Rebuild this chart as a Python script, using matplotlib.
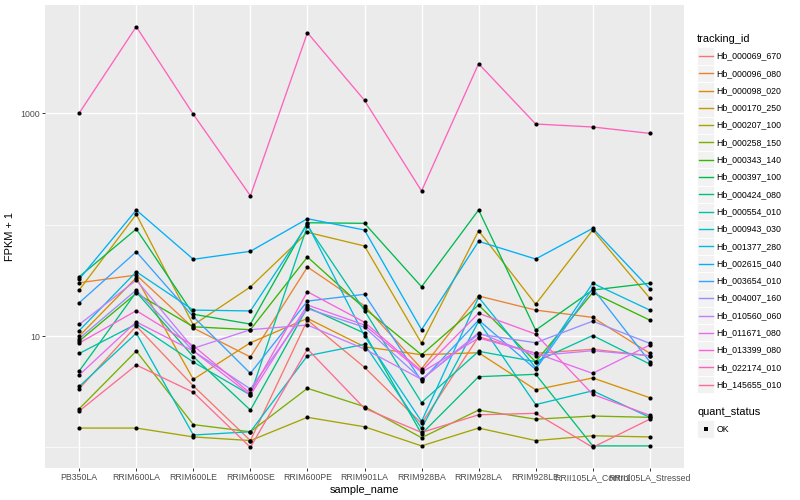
import numpy as np
import matplotlib
matplotlib.use("Agg")
import matplotlib.pyplot as plt
from matplotlib.ticker import FixedLocator, NullFormatter
from matplotlib.patches import Rectangle

# sample order on the x axis
samples = ["PB350LA", "RRIM600LA", "RRIM600LE", "RRIM600SE", "RRIM600PE",
           "RRIM901LA", "RRIM928BA", "RRIM928LA", "RRIM928LE",
           "RRII105LA_Control", "RRII105LA_Stressed"]

tracking_ids = ["Hb_000069_670", "Hb_000096_080", "Hb_000098_020", "Hb_000170_250",
                "Hb_000207_100", "Hb_000258_150", "Hb_000343_140", "Hb_000397_100",
                "Hb_000424_080", "Hb_000554_010", "Hb_000943_030", "Hb_001377_280",
                "Hb_002615_040", "Hb_003654_010", "Hb_004007_160", "Hb_010560_060",
                "Hb_011671_080", "Hb_013399_080", "Hb_022174_010", "Hb_145655_010"]

# ggplot default hue palette for 20 levels
colors = ["#F8766D", "#EA8331", "#D89000", "#C09B00", "#A3A500", "#7CAE00",
          "#39B600", "#00BB4E", "#00BF7D", "#00C1A3", "#00BFC4", "#00BAE0",
          "#00B0F6", "#35A2FF", "#9590FF", "#C77CFF", "#E76BF3", "#FA62DB",
          "#FF62BC", "#FF6C91"]

# FPKM + 1, one list per gene, in sample order
hb_000069_670 = [3.36, 12.3, 3.56, 1.15, 13.9, 5.23, 1.64, 9.86, 7.0, 7.6, 6.65]
hb_000096_080 = [30.1, 35.3, 11.8, 6.48, 41.7, 18.7, 5.08, 22.9, 17.1, 14.7, 7.0]
hb_000098_020 = [10.0, 33.4, 4.08, 8.7, 14.4, 8.0, 6.79, 7.08, 3.29, 4.2, 2.79]
hb_000170_250 = [25.9, 124, 12.56, 27.6, 85.5, 64.4, 8.6, 88.3, 19.3, 89.6, 21.9]
hb_000207_100 = [1.49, 1.49, 1.24, 1.15, 1.86, 1.53, 1.03, 1.49, 1.15, 1.27, 1.24]
hb_000258_150 = [2.22, 7.33, 1.60, 1.38, 3.39, 2.32, 1.22, 2.16, 1.79, 1.91, 1.86]
hb_000343_140 = [9.02, 24.2, 12.1, 11.4, 51.3, 17.7, 6.79, 19.0, 5.88, 24.5, 13.9]
hb_000397_100 = [34.1, 91.5, 15.7, 12.8, 104.2, 102.9, 27.7, 135.6, 11.3, 25.9, 29.8]
hb_000424_080 = [4.85, 24.8, 6.52, 2.16, 18.1, 10.6, 1.32, 4.31, 4.53, 1.03, 1.03]
hb_000554_010 = [6.97, 12.8, 5.84, 2.95, 98.0, 16.9, 2.52, 7.29, 5.88, 10.1, 5.6]
hb_000943_030 = [3.52, 10.6, 1.29, 1.38, 6.65, 8.42, 1.48, 13.55, 2.42, 3.22, 1.86]
hb_001377_280 = [11.2, 37.8, 17.1, 16.8, 100.8, 10.0, 1.71, 22.3, 5.19, 29.8, 17.1]
hb_002615_040 = [32.5, 135.6, 48.9, 57.7, 113.2, 89.6, 11.4, 70.9, 49.2, 92.8, 26.6]
hb_003654_010 = [19.9, 57.2, 14.9, 4.62, 20.6, 23.7, 3.94, 13.9, 5.02, 26.8, 5.88]
hb_004007_160 = [9.5, 25.9, 7.33, 3.34, 17.6, 12.0, 4.08, 10.4, 8.7, 13.6, 8.6]
hb_010560_060 = [12.7, 31.8, 7.75, 11.4, 12.56, 7.64, 4.08, 10.7, 6.65, 7.38, 6.65]
hb_011671_080 = [4.47, 13.4, 7.33, 2.95, 19.0, 12.56, 4.72, 9.6, 7.0, 4.62, 8.3]
hb_013399_080 = [8.65, 16.9, 8.18, 3.06, 25.0, 13.3, 4.85, 16.0, 10.4, 2.99, 1.94]
hb_022174_010 = [1008, 6012, 982, 182, 5310, 1311, 201, 2797, 803, 755, 662]
hb_145655_010 = [2.12, 5.49, 3.12, 1.0, 7.64, 2.24, 1.36, 1.96, 2.02, 1.0, 1.79]

series = [hb_000069_670, hb_000096_080, hb_000098_020, hb_000170_250,
          hb_000207_100, hb_000258_150, hb_000343_140, hb_000397_100,
          hb_000424_080, hb_000554_010, hb_000943_030, hb_001377_280,
          hb_002615_040, hb_003654_010, hb_004007_160, hb_010560_060,
          hb_011671_080, hb_013399_080, hb_022174_010, hb_145655_010]

plt.rcParams['font.family'] = ['Liberation Sans', 'DejaVu Sans']

W, H = 800, 500
fig = plt.figure(figsize=(W / 100, H / 100), dpi=100)


def fx(px):
    return px / W


def fy(py):
    return 1 - py / H


# panel
ax = fig.add_axes([fx(45), fy(468), fx(684) - fx(45), fy(5) - fy(468)])
ax.set_facecolor("#EBEBEB")
for s in ax.spines.values():
    s.set_visible(False)

x = np.arange(len(samples))
for vals, col in zip(series, colors):
    ax.plot(x, vals, color=col, lw=0.95, zorder=2, solid_capstyle="butt")
for vals in series:
    ax.plot(x, vals, "o", color="black", ms=3.0, mew=0, zorder=3)

ax.set_yscale("log")
ax.set_ylim(0.652, 9420)
ax.set_xlim(-0.6, len(samples) - 0.4)

ax.yaxis.set_major_locator(FixedLocator([10, 1000]))
ax.yaxis.set_minor_locator(FixedLocator([1, 100]))
ax.yaxis.set_minor_formatter(NullFormatter())
ax.set_yticklabels(["10", "1000"])
ax.set_xticks(x)
ax.set_xticklabels(samples)

ax.set_axisbelow(True)
ax.grid(which="major", color="white", lw=1.0)
ax.grid(which="minor", axis="y", color="white", lw=0.5)
ax.tick_params(which="major", labelsize=6.3, labelcolor="#4D4D4D",
               color="#333333", length=2.0, width=0.7, pad=1.6)
ax.tick_params(which="minor", length=0)

ax.set_xlabel("sample_name", fontsize=7.9, labelpad=2)
ax.set_ylabel("FPKM + 1", fontsize=7.9, labelpad=4)

# legend drawn by hand, ggplot style
fig.text(fx(697), fy(39), "tracking_id", fontsize=7.9, va="center", ha="left")
key_h = 17.3
for i, (name, col) in enumerate(zip(tracking_ids, colors)):
    cy = 56 + i * key_h
    fig.patches.append(Rectangle((fx(697), fy(cy + key_h / 2)), fx(17.3), key_h / H,
                                 transform=fig.transFigure, facecolor="#F2F2F2",
                                 edgecolor="white", lw=0.6))
    fig.lines.append(plt.Line2D([fx(699), fx(712.5)], [fy(cy), fy(cy)],
                                transform=fig.transFigure, color=col, lw=1.0))
    fig.text(fx(716.5), fy(cy), name, fontsize=6.3, va="center", ha="left")

fig.text(fx(697), fy(412), "quant_status", fontsize=7.9, va="center", ha="left")
cy = 429
fig.patches.append(Rectangle((fx(697), fy(cy + key_h / 2)), fx(17.3), key_h / H,
                             transform=fig.transFigure, facecolor="#F2F2F2",
                             edgecolor="white", lw=0.6))
fig.lines.append(plt.Line2D([fx(705.6)], [fy(cy)], transform=fig.transFigure,
                            marker="s", ms=2.6, color="black", mew=0, ls="none"))
fig.text(fx(716.5), fy(cy), "OK", fontsize=6.3, va="center", ha="left")

fig.savefig("out.png", dpi=100)
